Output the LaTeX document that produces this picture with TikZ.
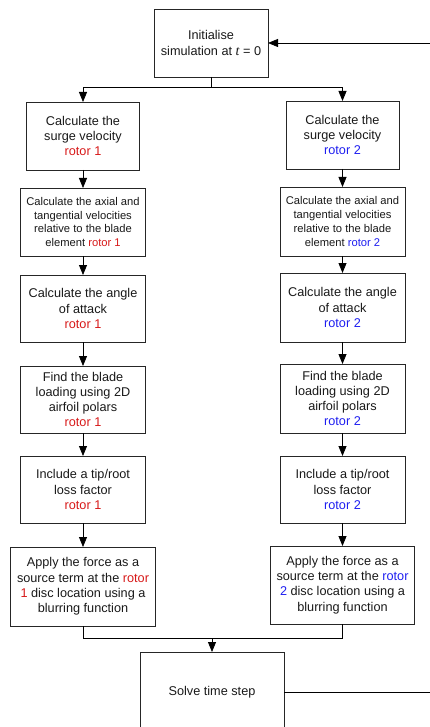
\documentclass[tikz,border=0pt]{standalone}
\usepackage{fontspec}
\setmainfont{Liberation Sans}
\newfontfamily\myserif{Liberation Serif}
\usetikzlibrary{arrows.meta}
\definecolor{rred}{RGB}{215,25,25}
\definecolor{rblue}{RGB}{30,30,240}
\newcommand\mybigfont{\fontsize{12.7}{15.3}\selectfont}
\newcommand\mysmallfont{\fontsize{11.2}{13.7}\selectfont}
\begin{document}
\begin{tikzpicture}[x=1pt,y=-1pt,
  box/.style={draw=black!85, line width=0.8pt, align=center, inner sep=0pt, outer sep=0pt, text=black!90, font=\mybigfont},
  smallbox/.style={box, font=\mysmallfont},
  arr/.style={line width=0.8pt, -{Triangle[width=8pt,length=10pt]}},
  ln/.style={line width=0.8pt}]
\useasboundingbox (0,0) rectangle (430,727);
\clip (0,0) rectangle (430,727);
% top
\node[box, minimum width=114pt, minimum height=68pt] (T) at (211,43) {Initialise\\simulation at {\myserif\itshape\fontsize{14}{15.3}\selectfont t} = 0};
% left column
\node[box, minimum width=113pt, minimum height=68pt] (L1) at (83,136) {Calculate the\\surge velocity\\\textcolor{rred}{rotor 1}};
\node[smallbox, minimum width=125pt, minimum height=68pt] (L2) at (83,222) {Calculate the axial and\\tangential velocities\\relative to the blade\\element {\color{rred}rotor 1}};
\node[box, minimum width=125pt, minimum height=67pt] (L3) at (83,308.5) {Calculate the angle\\of attack\\\textcolor{rred}{rotor 1}};
\node[box, minimum width=125pt, minimum height=67pt] (L4) at (83,399.5) {Find the blade\\loading using 2D\\airfoil polars\\\textcolor{rred}{rotor 1}};
\node[box, minimum width=125pt, minimum height=67pt] (L5) at (83,489.5) {Include a tip/root\\loss factor\\\textcolor{rred}{rotor 1}};
\node[box, minimum width=145pt, minimum height=79pt] (L6) at (83,586.5) {Apply the force as a\\source term at the \textcolor{rred}{rotor}\\\textcolor{rred}{1} disc location using a\\blurring function};
% right column
\node[box, minimum width=113pt, minimum height=68pt] (R1) at (342.5,135) {Calculate the\\surge velocity\\\textcolor{rblue}{rotor 2}};
\node[smallbox, minimum width=125pt, minimum height=69pt] (R2) at (342.5,221.5) {Calculate the axial and\\tangential velocities\\relative to the blade\\element {\color{rblue}rotor 2}};
\node[box, minimum width=125pt, minimum height=69pt] (R3) at (342.5,307.5) {Calculate the angle\\of attack\\\textcolor{rblue}{rotor 2}};
\node[box, minimum width=125pt, minimum height=69pt] (R4) at (342.5,398.5) {Find the blade\\loading using 2D\\airfoil polars\\\textcolor{rblue}{rotor 2}};
\node[box, minimum width=125pt, minimum height=67pt] (R5) at (342.5,489.5) {Include a tip/root\\loss factor\\\textcolor{rblue}{rotor 2}};
\node[box, minimum width=144pt, minimum height=78pt] (R6) at (342.5,585) {Apply the force as a\\source term at the \textcolor{rblue}{rotor}\\\textcolor{rblue}{2} disc location using a\\blurring function};
% bottom
\node[box, minimum width=144pt, minimum height=80pt] (B) at (212,692) {Solve time step};
% connectors
\coordinate (j1) at (211,87);
\coordinate (j2) at (212,638);
\coordinate (fr) at (433,692);
\draw[ln] (T.south) -- (j1);
\draw[arr] (j1) -| (L1.north);
\draw[arr] (j1) -| (R1.north);
\draw[arr] (L1) -- (L2);
\draw[arr] (L2) -- (L3);
\draw[arr] (L3) -- (L4);
\draw[arr] (L4) -- (L5);
\draw[arr] (L5) -- (L6);
\draw[arr] (R1) -- (R2);
\draw[arr] (R2) -- (R3);
\draw[arr] (R3) -- (R4);
\draw[arr] (R4) -- (R5);
\draw[arr] (R5) -- (R6);
\draw[ln] (L6.south) |- (j2);
\draw[ln] (R6.south) |- (j2);
\draw[arr] (j2) -- (B.north);
\draw[arr] (B.east) -- (fr) |- (T.east);
\end{tikzpicture}
\end{document}
